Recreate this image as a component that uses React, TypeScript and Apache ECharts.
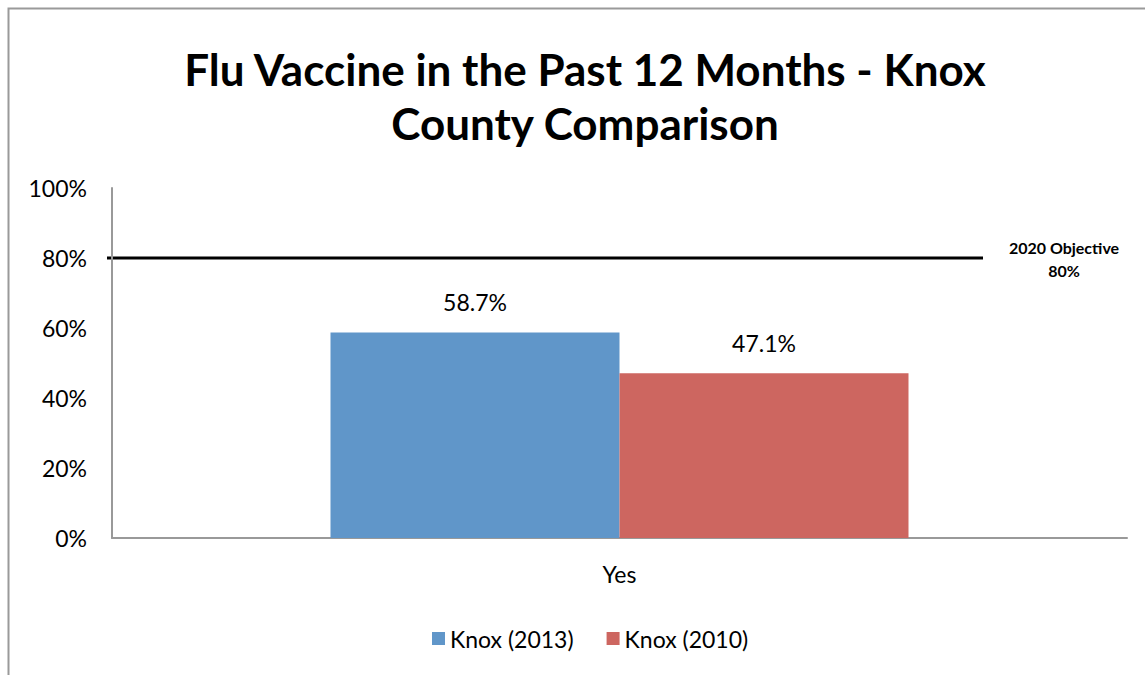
import React, { useEffect, useRef } from "react";
import * as echarts from "echarts";

const categories = ["Yes"];
const seriesNames = ["Knox (2013)", "Knox (2010)"];
const knox2013 = [58.7];
const knox2010 = [47.1];
const objectiveValue = 80;
const objectiveLabel = "2020 Objective\n80%";
const titleText = "Flu Vaccine in the Past 12 Months - Knox\nCounty Comparison";
const colors = ["#6096C9", "#CD6660"];

const FONT = "Lato, 'Open Sans', sans-serif";

export default function App() {
  const ref = useRef<HTMLDivElement>(null);
  useEffect(() => {
    if (!ref.current) return;
    const chart = echarts.init(ref.current, null, { renderer: "svg" });
    const labelStyle = {
      show: true,
      position: "top" as const,
      distance: 19,
      formatter: (p: any) => p.value.toFixed(1) + "%",
      color: "#000",
      fontSize: 23,
      fontFamily: FONT,
    };
    chart.setOption({
      animation: false,
      backgroundColor: "#fff",
      textStyle: { fontFamily: FONT },
      grid: { left: 112, top: 188, width: 1015, height: 350, containLabel: false },
      legend: {
        data: seriesNames,
        left: 427,
        top: 622,
        itemWidth: 13,
        itemHeight: 13,
        itemGap: 33,
        icon: "rect",
        textStyle: { fontSize: 23, color: "#000", fontFamily: FONT },
      },
      xAxis: {
        type: "category",
        data: categories,
        axisLine: { show: true, lineStyle: { color: "#999", width: 2 } },
        axisTick: { show: false },
        axisLabel: { fontSize: 23, color: "#000", margin: 24, fontFamily: FONT },
      },
      yAxis: {
        type: "value",
        min: 0,
        max: 100,
        interval: 20,
        axisLine: { show: true, lineStyle: { color: "#999", width: 2 } },
        axisTick: { show: false },
        splitLine: { show: false },
        axisLabel: {
          formatter: "{value}%",
          fontSize: 23,
          color: "#000",
          margin: 25,
          fontFamily: FONT,
          padding: [6, 0, 0, 0],
        },
      },
      series: [
        {
          name: seriesNames[0],
          type: "bar",
          data: knox2013,
          itemStyle: { color: colors[0] },
          barWidth: 289,
          barGap: "0%",
          label: labelStyle,
        },
        {
          name: seriesNames[1],
          type: "bar",
          data: knox2010,
          itemStyle: { color: colors[1] },
          barWidth: 289,
          barGap: "0%",
          label: labelStyle,
        },
      ],
    });
    const yObj = chart.convertToPixel({ yAxisIndex: 0 }, objectiveValue) as number;
    chart.setOption({
      graphic: [
        {
          type: "rect",
          shape: { x: 8.5, y: 8.5, width: 1300, height: 800 },
          style: { fill: "none", stroke: "#9a9a9a", lineWidth: 2 },
          silent: true,
        },
        {
          type: "text",
          x: 585,
          y: 42,
          style: {
            text: titleText,
            fill: "#000",
            font: `bold 44px ${FONT}`,
            textAlign: "center",
            lineHeight: 54,
          },
        },
        {
          type: "line",
          shape: { x1: 107, y1: yObj, x2: 983, y2: yObj },
          style: { stroke: "#000", lineWidth: 3 },
        },
        {
          type: "text",
          x: 1064,
          y: yObj - 22,
          style: {
            text: objectiveLabel,
            fill: "#000",
            font: `bold 16px ${FONT}`,
            textAlign: "center",
            lineHeight: 23,
          },
        },
      ],
    });
    return () => chart.dispose();
  }, []);
  return (
    <div
      ref={ref}
      style={{ position: "absolute", left: 0, top: 0, width: 1145, height: 675 }}
    />
  );
}
